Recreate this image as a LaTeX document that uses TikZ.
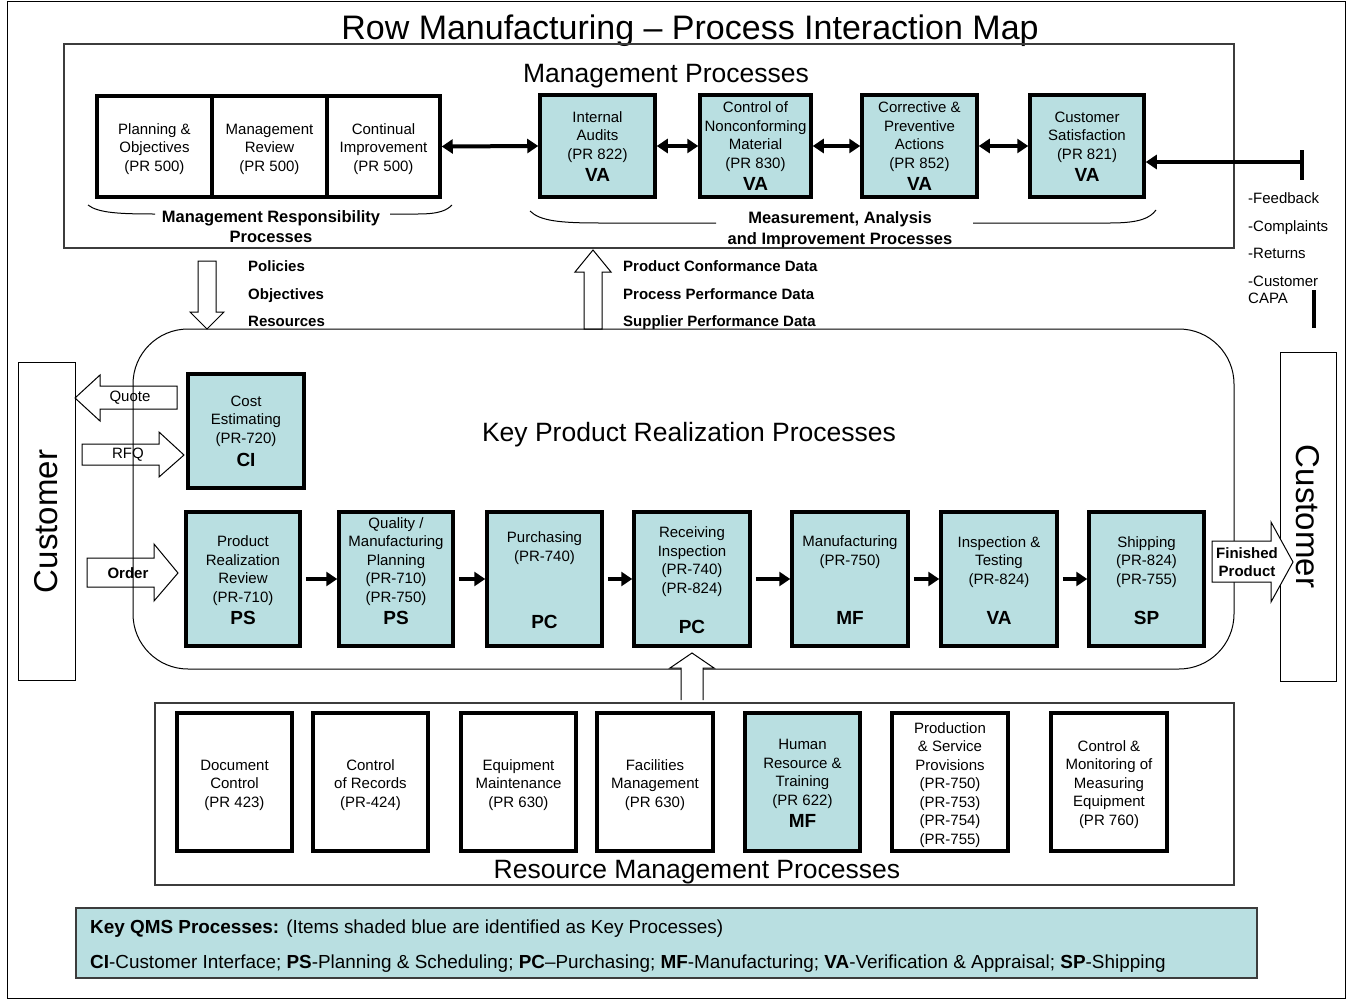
\documentclass[tikz,border=0pt]{standalone}
\usepackage{fontspec}
\setmainfont{Liberation Sans}
\usetikzlibrary{arrows.meta}
\definecolor{keyblue}{RGB}{185,223,225}
\definecolor{framegray}{RGB}{60,60,60}
\newcommand\qt[1]{{\fontsize{19}{20}\selectfont\bfseries #1}}
\tikzset{
  every node/.style={inner sep=0pt},
  kbox/.style={draw, line width=3.5pt, fill=keyblue},
  wbox/.style={draw, line width=3.5pt, fill=white},
  bt/.style={font=\fontsize{15}{18.5}\selectfont, align=center, anchor=base},
  lt/.style={font=\fontsize{15}{18.5}\selectfont\bfseries, anchor=base west},
  bigt/.style={font=\fontsize{26.5}{30}\selectfont, anchor=base},
  flow/.style={line width=4pt, -{Triangle[length=11pt,width=14pt]}},
  biflow/.style={line width=4pt, {Triangle[length=11pt,width=14pt]}-{Triangle[length=11pt,width=14pt]}},
  harrow/.style={draw, line width=1pt, fill=white, line join=miter},
  thinframe/.style={draw=framegray, line width=1.2pt},
}
\begin{document}
\begin{tikzpicture}[x=1pt,y=-1pt]
\useasboundingbox (0,0) rectangle (1352,1001);
\draw[line width=1pt] (7.5,1.5) rectangle (1345.5,998.5);

% title
\node[font=\fontsize{34}{36}\selectfont, anchor=base] (title) at (690,39) {Row Manufacturing -- Process Interaction Map};

% management processes
\node[thinframe, minimum width=1170pt, minimum height=204pt] (mgmt) at (649,146) {};
\node[bigt] (mgmtt) at (666,82) {Management Processes};

\node[wbox, minimum width=115pt, minimum height=101pt] (pl) at (154.5,146.5) {};
\node[wbox, minimum width=115pt, minimum height=101pt] (mr) at (269.5,146.5) {};
\node[wbox, minimum width=113pt, minimum height=101pt] (cim) at (383.5,146.5) {};
\node[bt] (plt) at (154.5,171) {Planning \&\\Objectives\\(PR 500)};
\node[bt] (mrt) at (269.5,171) {Management\\Review\\(PR 500)};
\node[bt] (cimt) at (383.5,171) {Continual\\Improvement\\(PR 500)};

\node[kbox, minimum width=115pt, minimum height=102pt] (ia) at (597.5,146) {};
\node[kbox, minimum width=111pt, minimum height=102pt] (nc) at (755.5,146) {};
\node[kbox, minimum width=115pt, minimum height=102pt] (cp) at (919.5,146) {};
\node[kbox, minimum width=114pt, minimum height=102pt] (cs) at (1087,146) {};
\node[bt] (iat) at (597.5,181) {Internal\\Audits\\(PR 822)\\[3.5pt]\qt{VA}};
\node[bt] (nct) at (755.5,190) {Control of\\Nonconforming\\Material\\(PR 830)\\[3.5pt]\qt{VA}};
\node[bt] (cpt) at (919.5,190) {Corrective \&\\Preventive\\Actions\\(PR 852)\\[3.5pt]\qt{VA}};
\node[bt] (cst) at (1087,181) {Customer\\Satisfaction\\(PR 821)\\[3.5pt]\qt{VA}};

\draw[biflow] (cim.east) -- (ia.west);
\draw[biflow] (ia.east) -- (nc.west);
\draw[biflow] (nc.east) -- (cp.west);
\draw[biflow] (cp.east) -- (cs.west);
\coordinate (fbend) at (1302,162);
\draw[flow] (fbend) -- (cs.east |- fbend);
\draw[line width=4pt] (1302,150) -- (1302,180);

% braces
\draw[line width=1pt] (88,205) .. controls (98,213) and (120,214) .. (155,214);
\draw[line width=1pt] (390,214) -- (418,214) .. controls (440,214) and (447,210) .. (452,205);
\node[font=\fontsize{16.5}{20}\selectfont\bfseries, align=center, anchor=base] (mrp) at (271,242) {Management Responsibility\\Processes};
\draw[line width=1pt] (530,211) .. controls (540,221) and (560,223) .. (600,223) -- (716,223);
\draw[line width=1pt] (973,223) -- (1110,223) .. controls (1140,223) and (1150,218) .. (1156,210);
\node[font=\fontsize{16.5}{21}\selectfont\bfseries, align=center, anchor=base] (maip) at (840,244) {Measurement, Analysis\\and Improvement Processes};

% feedback texts
\node[font=\fontsize{15}{17}\selectfont, anchor=base west] (fb1) at (1248,203) {-Feedback};
\node[font=\fontsize{15}{17}\selectfont, anchor=base west] (fb2) at (1248,231) {-Complaints};
\node[font=\fontsize{15}{17}\selectfont, anchor=base west] (fb3) at (1248,258) {-Returns};
\node[font=\fontsize{15}{17}\selectfont, anchor=base west, align=left] (fb4) at (1248,303) {-Customer\\CAPA};
\draw[line width=4pt] (1314,290) -- (1314,328);

% policies / data arrows
\draw[harrow] (198,261) -- (216,261) -- (216,312) -- (224,312) -- (207,329) -- (190,312) -- (198,312) -- cycle;
\draw[harrow] (584,329) -- (584,272) -- (575,272) -- (593,250) -- (611,272) -- (602,272) -- (602,329) -- cycle;
\node[lt] (pol) at (248,271) {Policies};
\node[lt] (obj) at (248,299) {Objectives};
\node[lt] (res) at (248,326) {Resources};
\node[lt] (pcd) at (623,271) {Product Conformance Data};
\node[lt] (ppd) at (623,299) {Process Performance Data};
\node[lt] (spd) at (623,326) {Supplier Performance Data};

% customers
\node[draw, line width=1pt, minimum width=57pt, minimum height=318pt] (custl) at (46.5,521.5) {};
\node[font=\fontsize{33}{36}\selectfont, rotate=90] at (custl.center) {Customer};
\node[draw, line width=1pt, minimum width=56pt, minimum height=329pt] (custr) at (1308,516.5) {};
\node[font=\fontsize{33}{36}\selectfont, rotate=-90] at (custr.center) {Customer};

% left block arrows
\draw[harrow] (177,386) -- (100,386) -- (100,375) -- (75,398) -- (100,421) -- (100,409) -- (177,409) -- cycle;
\node[font=\fontsize{15}{17}\selectfont] (quote) at (130,398) {Quote};
\draw[harrow] (82,444) -- (159,444) -- (159,432) -- (184,455) -- (159,477) -- (159,465) -- (82,465) -- cycle;
\node[font=\fontsize{15}{17}\selectfont] (rfq) at (128,455) {RFQ};
\draw[harrow] (87,558) -- (154,558) -- (154,544) -- (178,573) -- (154,601) -- (154,587) -- (87,587) -- cycle;
\node[font=\fontsize{15}{17}\selectfont\bfseries] (order) at (128,573) {Order};

% key product realization
\node[draw, line width=1pt, rounded corners=55pt, minimum width=1101pt, minimum height=340pt] (kprp) at (683.5,499) {};
\node[bigt] (kprpt) at (689,441) {Key Product Realization Processes};

\draw[harrow] (1212,541) -- (1271,541) -- (1271,522) -- (1293,562) -- (1271,602) -- (1271,582) -- (1212,582) -- cycle;
\node[font=\fontsize{15}{18}\selectfont\bfseries, align=center] (fp) at (1247,562) {Finished\\Product};

\node[kbox, minimum width=116pt, minimum height=114pt] (ce) at (246,431) {};
\node[bt] (cet) at (246,466) {Cost\\Estimating\\(PR-720)\\[4.5pt]\qt{CI}};

\node[kbox, minimum width=114pt, minimum height=134pt] (prr) at (243,579) {};
\node[kbox, minimum width=114pt, minimum height=134pt] (qmp) at (396,579) {};
\node[kbox, minimum width=115pt, minimum height=134pt] (pur) at (544.5,579) {};
\node[kbox, minimum width=116pt, minimum height=134pt] (ri) at (692,579) {};
\node[kbox, minimum width=116pt, minimum height=134pt] (mf) at (850,579) {};
\node[kbox, minimum width=116pt, minimum height=134pt] (it) at (999,579) {};
\node[kbox, minimum width=115pt, minimum height=134pt] (sh) at (1146.5,579) {};
\node[bt] (prrt) at (243,624) {Product\\Realization\\Review\\(PR-710)\\[3.5pt]\qt{PS}};
\node[bt] (qmpt) at (396,624) {Quality /\\Manufacturing\\Planning\\(PR-710)\\(PR-750)\\[3.5pt]\qt{PS}};
\node[bt] (purt) at (544.5,628) {Purchasing\\(PR-740)\\[48.5pt]\qt{PC}};
\node[bt] (rit) at (692,633) {Receiving\\Inspection\\(PR-740)\\(PR-824)\\[21.5pt]\qt{PC}};
\node[bt] (mft) at (850,624) {Manufacturing\\(PR-750)\\[40.5pt]\qt{MF}};
\node[bt] (itt) at (999,624) {Inspection \&\\Testing\\(PR-824)\\[21.5pt]\qt{VA}};
\node[bt] (sht) at (1146.5,624) {Shipping\\(PR-824)\\(PR-755)\\[21.5pt]\qt{SP}};

\draw[flow, shorten <=4pt] (prr.east) -- (qmp.west);
\draw[flow, shorten <=4pt] (qmp.east) -- (pur.west);
\draw[flow, shorten <=4pt] (pur.east) -- (ri.west);
\draw[flow, shorten <=4pt] (ri.east) -- (mf.west);
\draw[flow, shorten <=4pt] (mf.east) -- (it.west);
\draw[flow, shorten <=4pt] (it.east) -- (sh.west);

% resource management
\node[thinframe, minimum width=1079pt, minimum height=182pt] (rmp) at (694.5,794) {};
\node[bigt] (rmpt) at (697,878) {Resource Management Processes};
\draw[harrow] (681,700) -- (681,668) -- (670,668) -- (692,653) -- (714,668) -- (703,668) -- (703,700);

\node[wbox, minimum width=115pt, minimum height=138pt] (dc) at (234.5,782) {};
\node[wbox, minimum width=115pt, minimum height=138pt] (cr) at (370.5,782) {};
\node[wbox, minimum width=115pt, minimum height=138pt] (em) at (518.5,782) {};
\node[wbox, minimum width=116pt, minimum height=138pt] (fm) at (655,782) {};
\node[kbox, minimum width=115pt, minimum height=138pt] (hr) at (802.5,782) {};
\node[wbox, minimum width=116pt, minimum height=138pt] (psp) at (950,782) {};
\node[wbox, minimum width=116pt, minimum height=138pt] (cm) at (1109,782) {};
\node[bt] (dct) at (234.5,807) {Document\\Control\\(PR 423)};
\node[bt] (crt) at (370.5,807) {Control\\of Records\\(PR-424)};
\node[bt] (emt) at (518.5,807) {Equipment\\Maintenance\\(PR 630)};
\node[bt] (fmt) at (655,807) {Facilities\\Management\\(PR 630)};
\node[bt] (hrt) at (802.5,827) {Human\\Resource \&\\Training\\(PR 622)\\[3.5pt]\qt{MF}};
\node[bt] (pspt) at (950,844) {Production\\\& Service\\Provisions\\(PR-750)\\(PR-753)\\(PR-754)\\(PR-755)};
\node[bt] (cmt) at (1109,825) {Control \&\\Monitoring of\\Measuring\\Equipment\\(PR 760)};

% legend
\node[draw=framegray, line width=1.2pt, fill=keyblue, minimum width=1181pt, minimum height=70pt] (legend) at (666.5,943) {};
\node[font=\fontsize{18.9}{20}\selectfont, anchor=base west] (leg1) at (90,933) {\textbf{Key QMS Processes:} (Items shaded blue are identified as Key Processes)};
\node[font=\fontsize{18.9}{20}\selectfont, anchor=base west] (leg2) at (90,968) {\textbf{CI}-Customer Interface; \textbf{PS}-Planning \& Scheduling; \textbf{PC}--Purchasing; \textbf{MF}-Manufacturing; \textbf{VA}-Verification \& Appraisal; \textbf{SP}-Shipping};
\end{tikzpicture}
\end{document}
